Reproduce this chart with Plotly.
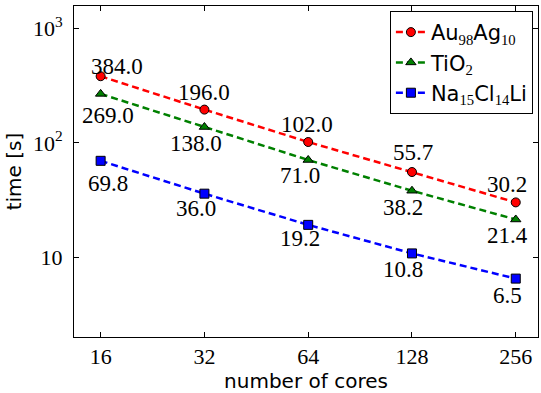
import math
import plotly.graph_objects as go

cores = [16, 32, 64, 128, 256]
au_times = [384.0, 196.0, 102.0, 55.7, 30.2]
tio_times = [269.0, 138.0, 71.0, 38.2, 21.4]
nacl_times = [69.8, 36.0, 19.2, 10.8, 6.5]

x_tick_labels = ["16", "32", "64", "128", "256"]
y_tick_vals = [10, 100, 1000]
y_tick_labels = ["10", "10<sup>2</sup>", "10<sup>3</sup>"]

SERIF = "Liberation Serif, Times New Roman, serif"
SANS = "DejaVu Sans, sans-serif"

SUB = '<sub style="font-family:Liberation Serif,serif">{}</sub>'
series_names = [
    "Au" + SUB.format("98") + "Ag" + SUB.format("10"),
    "TiO" + SUB.format("2"),
    "Na" + SUB.format("15") + "Cl" + SUB.format("14") + "Li",
]

# styles
colors = ["#ff0000", "#008000", "#0000ff"]
symbols = ["circle", "triangle-up", "square"]
# label offsets in pixels (dx right, dy down)
label_offsets = [
    [(16, -9.6), (0, -17.6), (-1, -17.8), (0.6, -19.3), (-8.4, -18)],
    [(7.6, 21.5), (-8.4, 16), (-8.7, 16), (-8.7, 16.5), (-8.4, 16.4)],
    [(7.6, 23), (-8.6, 15), (-8.7, 14), (-8.7, 15.6), (-8.4, 17.3)],
]

fig = go.Figure()
all_series = [au_times, tio_times, nacl_times]
annotations = []
for vals, name, col, sym, offs in zip(all_series, series_names, colors, symbols, label_offsets):
    fig.add_trace(go.Scatter(
        x=cores, y=vals, name=name, mode="lines+markers",
        line=dict(color=col, width=2.5, dash="7px,4px"),
        marker=dict(symbol=sym, size=9, color=col, line=dict(color="black", width=1)),
    ))
    for xv, yv, (dx, dy) in zip(cores, vals, offs):
        annotations.append(dict(
            x=math.log10(xv), y=math.log10(yv), xref="x", yref="y",
            text=f"{yv:.1f}", showarrow=False,
            xanchor="center", yanchor="middle",
            xshift=dx, yshift=-dy,
            font=dict(family=SERIF, size=23, color="black"),
        ))

fig.update_layout(
    width=541, height=393,
    margin=dict(l=74, r=2, t=6, b=48),
    paper_bgcolor="white", plot_bgcolor="white",
    annotations=annotations,
    showlegend=True,
    legend=dict(
        x=0.989, xanchor="right", y=0.985, yanchor="top",
        bordercolor="black", borderwidth=1, bgcolor="white",
        font=dict(family=SANS, size=21, color="black"),
        tracegroupgap=0,
    ),
    xaxis=dict(
        type="log", range=[1.12684, 2.47274],
        tickvals=cores, ticktext=x_tick_labels,
        ticks="inside", ticklen=5, tickcolor="black",
        showline=True, linecolor="black", linewidth=1, mirror="allticks",
        showgrid=False, zeroline=False,
        tickfont=dict(family=SERIF, size=22, color="black"),
        title=dict(text="number of cores", standoff=8,
                   font=dict(family=SANS, size=20, color="black")),
    ),
    yaxis=dict(
        type="log", range=[0.3017, 3.1991],
        tickvals=y_tick_vals, ticktext=y_tick_labels,
        ticks="inside", ticklen=5, tickcolor="black",
        showline=True, linecolor="black", linewidth=1, mirror="allticks",
        showgrid=False, zeroline=False,
        ticklabelstandoff=6,
        tickfont=dict(family=SERIF, size=22, color="black"),
        title=dict(text="time [s]", standoff=5,
                   font=dict(family=SANS, size=20, color="black")),
    ),
)

fig.write_html("out.html", config={"displayModeBar": False},
               post_script="document.body.style.margin='0px';")
